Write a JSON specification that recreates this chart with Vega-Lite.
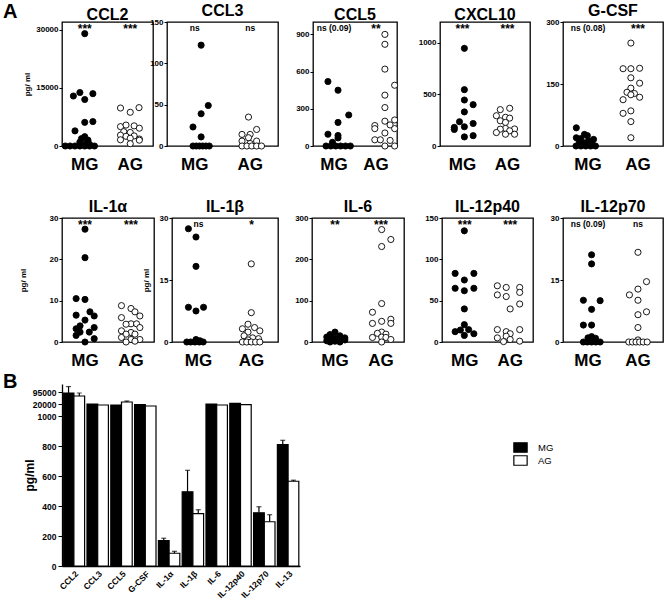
{
"$schema": "https://vega.github.io/schema/vega-lite/v6.json",
"padding": {"left": 3, "top": 2, "right": 0, "bottom": 0},
"resolve": {"scale": {"fill": "independent"}, "legend": {"fill": "independent"}},
"datasets": {
"pts": [
{"c":"CCL2","g":"MG","v":29000,"j":0},{"c":"CCL2","g":"MG","v":12900,"j":-3.5},{"c":"CCL2","g":"MG","v":13800,"j":-1.5},{"c":"CCL2","g":"MG","v":12000,"j":0},{"c":"CCL2","g":"MG","v":13500,"j":2.5},{"c":"CCL2","g":"MG","v":6100,"j":0},{"c":"CCL2","g":"MG","v":6300,"j":2.5},{"c":"CCL2","g":"MG","v":3900,"j":-3},{"c":"CCL2","g":"MG","v":2400,"j":0},{"c":"CCL2","g":"MG","v":1900,"j":-1},{"c":"CCL2","g":"MG","v":1500,"j":1},{"c":"CCL2","g":"MG","v":1000,"j":-1.5},{"c":"CCL2","g":"MG","v":700,"j":0.5},{"c":"CCL2","g":"MG","v":400,"j":1.5},{"c":"CCL2","g":"MG","v":0,"j":-6},{"c":"CCL2","g":"MG","v":0,"j":-4.5},{"c":"CCL2","g":"MG","v":0,"j":-3},{"c":"CCL2","g":"MG","v":0,"j":-1.5},{"c":"CCL2","g":"MG","v":0,"j":0},{"c":"CCL2","g":"MG","v":0,"j":1.5},{"c":"CCL2","g":"MG","v":0,"j":3},
{"c":"CCL2","g":"AG","v":9800,"j":-3},{"c":"CCL2","g":"AG","v":8700,"j":0},{"c":"CCL2","g":"AG","v":9900,"j":2.7},{"c":"CCL2","g":"AG","v":5000,"j":-3},{"c":"CCL2","g":"AG","v":5400,"j":-1.3},{"c":"CCL2","g":"AG","v":5200,"j":1.2},{"c":"CCL2","g":"AG","v":4600,"j":2.8},{"c":"CCL2","g":"AG","v":3700,"j":-2},{"c":"CCL2","g":"AG","v":3500,"j":0},{"c":"CCL2","g":"AG","v":2800,"j":-3},{"c":"CCL2","g":"AG","v":2500,"j":-1.3},{"c":"CCL2","g":"AG","v":2600,"j":1.2},{"c":"CCL2","g":"AG","v":2000,"j":0},{"c":"CCL2","g":"AG","v":1800,"j":2.8},{"c":"CCL2","g":"AG","v":1600,"j":-3},{"c":"CCL2","g":"AG","v":1500,"j":2.8},{"c":"CCL2","g":"AG","v":600,"j":0},
{"c":"CCL3","g":"MG","v":122,"j":3.5},{"c":"CCL3","g":"MG","v":49,"j":5.7},{"c":"CCL3","g":"MG","v":39,"j":3.5},{"c":"CCL3","g":"MG","v":23,"j":1},{"c":"CCL3","g":"MG","v":11,"j":3.5},{"c":"CCL3","g":"MG","v":0,"j":1},{"c":"CCL3","g":"MG","v":0,"j":2},{"c":"CCL3","g":"MG","v":0,"j":3},{"c":"CCL3","g":"MG","v":0,"j":4},{"c":"CCL3","g":"MG","v":0,"j":5},{"c":"CCL3","g":"MG","v":0,"j":6},
{"c":"CCL3","g":"AG","v":35,"j":1},{"c":"CCL3","g":"AG","v":20,"j":3.5},{"c":"CCL3","g":"AG","v":14,"j":-1},{"c":"CCL3","g":"AG","v":14,"j":1.5},{"c":"CCL3","g":"AG","v":10,"j":1},{"c":"CCL3","g":"AG","v":6,"j":-1},{"c":"CCL3","g":"AG","v":6,"j":3.5},{"c":"CCL3","g":"AG","v":3,"j":1.5},{"c":"CCL3","g":"AG","v":0,"j":-1},{"c":"CCL3","g":"AG","v":0,"j":0.5},{"c":"CCL3","g":"AG","v":0,"j":2},{"c":"CCL3","g":"AG","v":0,"j":3.5},{"c":"CCL3","g":"AG","v":0,"j":5},
{"c":"CCL5","g":"MG","v":520,"j":-2.4},{"c":"CCL5","g":"MG","v":450,"j":0.7},{"c":"CCL5","g":"MG","v":250,"j":4},{"c":"CCL5","g":"MG","v":190,"j":0.7},{"c":"CCL5","g":"MG","v":95,"j":-2.4},{"c":"CCL5","g":"MG","v":85,"j":0.7},{"c":"CCL5","g":"MG","v":65,"j":0.7},{"c":"CCL5","g":"MG","v":30,"j":-1},{"c":"CCL5","g":"MG","v":0,"j":-3},{"c":"CCL5","g":"MG","v":0,"j":-1.5},{"c":"CCL5","g":"MG","v":0,"j":0},{"c":"CCL5","g":"MG","v":0,"j":1.5},{"c":"CCL5","g":"MG","v":0,"j":3},{"c":"CCL5","g":"MG","v":0,"j":4.5},
{"c":"CCL5","g":"AG","v":900,"j":2.2},{"c":"CCL5","g":"AG","v":820,"j":2.2},{"c":"CCL5","g":"AG","v":620,"j":2.2},{"c":"CCL5","g":"AG","v":490,"j":5.2},{"c":"CCL5","g":"AG","v":410,"j":2.2},{"c":"CCL5","g":"AG","v":310,"j":2.2},{"c":"CCL5","g":"AG","v":200,"j":2.2},{"c":"CCL5","g":"AG","v":210,"j":5.2},{"c":"CCL5","g":"AG","v":170,"j":3.8},{"c":"CCL5","g":"AG","v":165,"j":-0.9},{"c":"CCL5","g":"AG","v":140,"j":-0.9},{"c":"CCL5","g":"AG","v":140,"j":5.2},{"c":"CCL5","g":"AG","v":105,"j":2.2},{"c":"CCL5","g":"AG","v":50,"j":-0.9},{"c":"CCL5","g":"AG","v":50,"j":0.8},{"c":"CCL5","g":"AG","v":45,"j":3.8},{"c":"CCL5","g":"AG","v":0,"j":2.2},{"c":"CCL5","g":"AG","v":0,"j":5.2},
{"c":"CXCL10","g":"MG","v":945,"j":0.5},{"c":"CXCL10","g":"MG","v":545,"j":0.5},{"c":"CXCL10","g":"MG","v":445,"j":0.5},{"c":"CXCL10","g":"MG","v":400,"j":3.2},{"c":"CXCL10","g":"MG","v":330,"j":0.5},{"c":"CXCL10","g":"MG","v":235,"j":-1},{"c":"CXCL10","g":"MG","v":218,"j":3.2},{"c":"CXCL10","g":"MG","v":186,"j":0.5},{"c":"CXCL10","g":"MG","v":180,"j":-2.6},{"c":"CXCL10","g":"MG","v":160,"j":-2.6},{"c":"CXCL10","g":"MG","v":100,"j":3.2},{"c":"CXCL10","g":"MG","v":88,"j":0.5},
{"c":"CXCL10","g":"AG","v":352,"j":-2.3},{"c":"CXCL10","g":"AG","v":365,"j":0.6},{"c":"CXCL10","g":"AG","v":293,"j":-3.5},{"c":"CXCL10","g":"AG","v":278,"j":-0.7},{"c":"CXCL10","g":"AG","v":270,"j":0.6},{"c":"CXCL10","g":"AG","v":244,"j":-2.3},{"c":"CXCL10","g":"AG","v":228,"j":-0.7},{"c":"CXCL10","g":"AG","v":170,"j":-0.7},{"c":"CXCL10","g":"AG","v":163,"j":-2.3},{"c":"CXCL10","g":"AG","v":165,"j":2.1},{"c":"CXCL10","g":"AG","v":147,"j":0.6},{"c":"CXCL10","g":"AG","v":130,"j":-3.5},{"c":"CXCL10","g":"AG","v":114,"j":-0.7},{"c":"CXCL10","g":"AG","v":114,"j":2.1},
{"c":"G-CSF","g":"MG","v":44,"j":-2.9},{"c":"G-CSF","g":"MG","v":28,"j":-0.4},{"c":"G-CSF","g":"MG","v":25,"j":0.5},{"c":"G-CSF","g":"MG","v":20,"j":-2.9},{"c":"G-CSF","g":"MG","v":18,"j":-1.5},{"c":"G-CSF","g":"MG","v":16,"j":2.4},{"c":"G-CSF","g":"MG","v":12,"j":1},{"c":"G-CSF","g":"MG","v":10,"j":-2},{"c":"G-CSF","g":"MG","v":8,"j":0},{"c":"G-CSF","g":"MG","v":5,"j":-1},{"c":"G-CSF","g":"MG","v":3,"j":2},{"c":"G-CSF","g":"MG","v":0,"j":-3},{"c":"G-CSF","g":"MG","v":0,"j":-1.5},{"c":"G-CSF","g":"MG","v":0,"j":0},{"c":"G-CSF","g":"MG","v":0,"j":1.5},{"c":"G-CSF","g":"MG","v":0,"j":3},
{"c":"G-CSF","g":"AG","v":249,"j":-1.5},{"c":"G-CSF","g":"AG","v":187,"j":-3.9},{"c":"G-CSF","g":"AG","v":187,"j":-1.5},{"c":"G-CSF","g":"AG","v":188,"j":1.2},{"c":"G-CSF","g":"AG","v":165,"j":-1.5},{"c":"G-CSF","g":"AG","v":152,"j":1.2},{"c":"G-CSF","g":"AG","v":140,"j":-1.5},{"c":"G-CSF","g":"AG","v":130,"j":-2.7},{"c":"G-CSF","g":"AG","v":127,"j":-0.4},{"c":"G-CSF","g":"AG","v":124,"j":-1.5},{"c":"G-CSF","g":"AG","v":118,"j":1.2},{"c":"G-CSF","g":"AG","v":112,"j":-3.9},{"c":"G-CSF","g":"AG","v":85,"j":-1.5},{"c":"G-CSF","g":"AG","v":79,"j":-3.9},{"c":"G-CSF","g":"AG","v":59,"j":-1.5},{"c":"G-CSF","g":"AG","v":20,"j":-1.5},
{"c":"IL-1α","g":"MG","v":27.3,"j":0},{"c":"IL-1α","g":"MG","v":20.4,"j":0},{"c":"IL-1α","g":"MG","v":10.5,"j":-2.7},{"c":"IL-1α","g":"MG","v":10.3,"j":0},{"c":"IL-1α","g":"MG","v":6.5,"j":-2.7},{"c":"IL-1α","g":"MG","v":7.3,"j":1.5},{"c":"IL-1α","g":"MG","v":6.3,"j":2.8},{"c":"IL-1α","g":"MG","v":5.3,"j":0},{"c":"IL-1α","g":"MG","v":3.9,"j":-1.5},{"c":"IL-1α","g":"MG","v":3.2,"j":-2.7},{"c":"IL-1α","g":"MG","v":3.5,"j":2.8},{"c":"IL-1α","g":"MG","v":2.4,"j":-1.5},{"c":"IL-1α","g":"MG","v":2.4,"j":1.3},{"c":"IL-1α","g":"MG","v":1.6,"j":-2.7},{"c":"IL-1α","g":"MG","v":0.8,"j":2.8},{"c":"IL-1α","g":"MG","v":0,"j":0},
{"c":"IL-1α","g":"AG","v":8.8,"j":-2.9},{"c":"IL-1α","g":"AG","v":8.1,"j":0},{"c":"IL-1α","g":"AG","v":5.9,"j":-2.9},{"c":"IL-1α","g":"AG","v":7.3,"j":1.2},{"c":"IL-1α","g":"AG","v":6.3,"j":2.7},{"c":"IL-1α","g":"AG","v":4.4,"j":0},{"c":"IL-1α","g":"AG","v":4.4,"j":1.7},{"c":"IL-1α","g":"AG","v":4.3,"j":-1.5},{"c":"IL-1α","g":"AG","v":2.7,"j":-2.9},{"c":"IL-1α","g":"AG","v":3.5,"j":2.7},{"c":"IL-1α","g":"AG","v":2.3,"j":0},{"c":"IL-1α","g":"AG","v":1.9,"j":-1.5},{"c":"IL-1α","g":"AG","v":1.9,"j":1.2},{"c":"IL-1α","g":"AG","v":1.1,"j":-2.9},{"c":"IL-1α","g":"AG","v":0.6,"j":2.7},{"c":"IL-1α","g":"AG","v":0.6,"j":0},{"c":"IL-1α","g":"AG","v":0.2,"j":1.2},{"c":"IL-1α","g":"AG","v":0,"j":-1.5},
{"c":"IL-1β","g":"MG","v":27.4,"j":-2},{"c":"IL-1β","g":"MG","v":25.4,"j":0.3},{"c":"IL-1β","g":"MG","v":18.3,"j":0.3},{"c":"IL-1β","g":"MG","v":8.4,"j":-2},{"c":"IL-1β","g":"MG","v":7.5,"j":0.3},{"c":"IL-1β","g":"MG","v":8.4,"j":2.6},{"c":"IL-1β","g":"MG","v":0.6,"j":0.3},{"c":"IL-1β","g":"MG","v":0.3,"j":1.5},{"c":"IL-1β","g":"MG","v":0,"j":-2.5},{"c":"IL-1β","g":"MG","v":0,"j":-1.3},{"c":"IL-1β","g":"MG","v":0,"j":0},{"c":"IL-1β","g":"MG","v":0,"j":1.3},{"c":"IL-1β","g":"MG","v":0,"j":2.5},
{"c":"IL-1β","g":"AG","v":18.9,"j":1},{"c":"IL-1β","g":"AG","v":7.1,"j":1},{"c":"IL-1β","g":"AG","v":4.3,"j":0},{"c":"IL-1β","g":"AG","v":3.2,"j":-1.7},{"c":"IL-1β","g":"AG","v":3.5,"j":2},{"c":"IL-1β","g":"AG","v":2.7,"j":3.6},{"c":"IL-1β","g":"AG","v":2.4,"j":0},{"c":"IL-1β","g":"AG","v":1.5,"j":-1.2},{"c":"IL-1β","g":"AG","v":1.0,"j":1.4},{"c":"IL-1β","g":"AG","v":0.8,"j":3.2},{"c":"IL-1β","g":"AG","v":0.5,"j":0},{"c":"IL-1β","g":"AG","v":0,"j":-1.7},{"c":"IL-1β","g":"AG","v":0,"j":-0.4},{"c":"IL-1β","g":"AG","v":0,"j":1},{"c":"IL-1β","g":"AG","v":0,"j":2.3},{"c":"IL-1β","g":"AG","v":0,"j":3.6},
{"c":"IL-6","g":"MG","v":24,"j":0},{"c":"IL-6","g":"MG","v":18,"j":-1.5},{"c":"IL-6","g":"MG","v":15,"j":1.5},{"c":"IL-6","g":"MG","v":15,"j":-1.5},{"c":"IL-6","g":"MG","v":12,"j":-2.5},{"c":"IL-6","g":"MG","v":10,"j":3},{"c":"IL-6","g":"MG","v":9,"j":0},{"c":"IL-6","g":"MG","v":8,"j":1.5},{"c":"IL-6","g":"MG","v":6,"j":-1.5},{"c":"IL-6","g":"MG","v":5,"j":3},{"c":"IL-6","g":"MG","v":3,"j":-2.5},{"c":"IL-6","g":"MG","v":2,"j":0},{"c":"IL-6","g":"MG","v":0,"j":1.5},{"c":"IL-6","g":"MG","v":0,"j":-1.5},
{"c":"IL-6","g":"AG","v":272,"j":0.2},{"c":"IL-6","g":"AG","v":248,"j":3},{"c":"IL-6","g":"AG","v":231,"j":0.2},{"c":"IL-6","g":"AG","v":93,"j":0.2},{"c":"IL-6","g":"AG","v":72,"j":-2.6},{"c":"IL-6","g":"AG","v":55,"j":3},{"c":"IL-6","g":"AG","v":50,"j":0.2},{"c":"IL-6","g":"AG","v":45,"j":-2.6},{"c":"IL-6","g":"AG","v":45,"j":3},{"c":"IL-6","g":"AG","v":24,"j":0.2},{"c":"IL-6","g":"AG","v":21,"j":-1.1},{"c":"IL-6","g":"AG","v":19,"j":1.5},{"c":"IL-6","g":"AG","v":12,"j":0.2},{"c":"IL-6","g":"AG","v":11,"j":-2.6},{"c":"IL-6","g":"AG","v":11,"j":1.5},{"c":"IL-6","g":"AG","v":6,"j":3},{"c":"IL-6","g":"AG","v":0,"j":0.2},
{"c":"IL-12p40","g":"MG","v":134.5,"j":-0.2},{"c":"IL-12p40","g":"MG","v":83,"j":-3},{"c":"IL-12p40","g":"MG","v":83,"j":2.7},{"c":"IL-12p40","g":"MG","v":75,"j":-0.2},{"c":"IL-12p40","g":"MG","v":65,"j":-3},{"c":"IL-12p40","g":"MG","v":62,"j":-0.2},{"c":"IL-12p40","g":"MG","v":65,"j":2.7},{"c":"IL-12p40","g":"MG","v":40,"j":-0.2},{"c":"IL-12p40","g":"MG","v":21,"j":-0.2},{"c":"IL-12p40","g":"MG","v":12.5,"j":-3},{"c":"IL-12p40","g":"MG","v":14.5,"j":-1.4},{"c":"IL-12p40","g":"MG","v":15,"j":1.1},{"c":"IL-12p40","g":"MG","v":10,"j":2.7},{"c":"IL-12p40","g":"MG","v":8,"j":-0.2},
{"c":"IL-12p40","g":"AG","v":68,"j":-4},{"c":"IL-12p40","g":"AG","v":66,"j":-1.3},{"c":"IL-12p40","g":"AG","v":66,"j":2.8},{"c":"IL-12p40","g":"AG","v":57,"j":-4},{"c":"IL-12p40","g":"AG","v":55,"j":-1.3},{"c":"IL-12p40","g":"AG","v":60,"j":2.8},{"c":"IL-12p40","g":"AG","v":46,"j":2.8},{"c":"IL-12p40","g":"AG","v":40,"j":-0.1},{"c":"IL-12p40","g":"AG","v":15,"j":-4},{"c":"IL-12p40","g":"AG","v":12.5,"j":-1.3},{"c":"IL-12p40","g":"AG","v":10,"j":-0.1},{"c":"IL-12p40","g":"AG","v":15,"j":2.8},{"c":"IL-12p40","g":"AG","v":5,"j":-4},{"c":"IL-12p40","g":"AG","v":7,"j":-1.3},{"c":"IL-12p40","g":"AG","v":3,"j":-0.1},{"c":"IL-12p40","g":"AG","v":1,"j":2.8},{"c":"IL-12p40","g":"AG","v":0.5,"j":-2.1},
{"c":"IL-12p70","g":"MG","v":21.1,"j":1.7},{"c":"IL-12p70","g":"MG","v":18.9,"j":1.7},{"c":"IL-12p70","g":"MG","v":10.1,"j":-0.8},{"c":"IL-12p70","g":"MG","v":10,"j":4.3},{"c":"IL-12p70","g":"MG","v":7.9,"j":1.7},{"c":"IL-12p70","g":"MG","v":4.1,"j":-0.8},{"c":"IL-12p70","g":"MG","v":4.1,"j":1.7},{"c":"IL-12p70","g":"MG","v":1.3,"j":1.7},{"c":"IL-12p70","g":"MG","v":1,"j":0.6},{"c":"IL-12p70","g":"MG","v":0.9,"j":2.9},{"c":"IL-12p70","g":"MG","v":0,"j":-0.8},{"c":"IL-12p70","g":"MG","v":0,"j":0.4},{"c":"IL-12p70","g":"MG","v":0,"j":1.7},{"c":"IL-12p70","g":"MG","v":0,"j":3},{"c":"IL-12p70","g":"MG","v":0,"j":4.3},
{"c":"IL-12p70","g":"AG","v":21.7,"j":0.6},{"c":"IL-12p70","g":"AG","v":12.8,"j":0.6},{"c":"IL-12p70","g":"AG","v":14.6,"j":3.2},{"c":"IL-12p70","g":"AG","v":11.4,"j":-2},{"c":"IL-12p70","g":"AG","v":10.1,"j":0.6},{"c":"IL-12p70","g":"AG","v":7.3,"j":3.2},{"c":"IL-12p70","g":"AG","v":6.6,"j":0.6},{"c":"IL-12p70","g":"AG","v":3.5,"j":0.6},{"c":"IL-12p70","g":"AG","v":0.5,"j":0.6},{"c":"IL-12p70","g":"AG","v":0,"j":-2.2},{"c":"IL-12p70","g":"AG","v":0,"j":-1.1},{"c":"IL-12p70","g":"AG","v":0,"j":0},{"c":"IL-12p70","g":"AG","v":0,"j":1.1},{"c":"IL-12p70","g":"AG","v":0,"j":2.2},{"c":"IL-12p70","g":"AG","v":0,"j":3.4}
],
"sig": [
{"c":"CCL2","g":"MG","s":"***"},{"c":"CCL2","g":"AG","s":"***"},
{"c":"CCL3","g":"MG","s":"ns"},{"c":"CCL3","g":"AG","s":"ns"},
{"c":"CCL5","g":"MG","s":"ns (0.09)"},{"c":"CCL5","g":"AG","s":"**"},
{"c":"CXCL10","g":"MG","s":"***"},{"c":"CXCL10","g":"AG","s":"***"},
{"c":"G-CSF","g":"MG","s":"ns (0.08)"},{"c":"G-CSF","g":"AG","s":"***"},
{"c":"IL-1α","g":"MG","s":"***"},{"c":"IL-1α","g":"AG","s":"***"},
{"c":"IL-1β","g":"MG","s":"ns"},{"c":"IL-1β","g":"AG","s":"*"},
{"c":"IL-6","g":"MG","s":"**"},{"c":"IL-6","g":"AG","s":"***"},
{"c":"IL-12p40","g":"MG","s":"***"},{"c":"IL-12p40","g":"AG","s":"***"},
{"c":"IL-12p70","g":"MG","s":"ns (0.09)"},{"c":"IL-12p70","g":"AG","s":"ns"}
],
"bars": [
{"cyto":"CCL2","grp":"MG","val":88750,"err":112000},{"cyto":"CCL2","grp":"AG","val":70000,"err":88750},
{"cyto":"CCL3","grp":"MG","val":20000,"err":null},{"cyto":"CCL3","grp":"AG","val":18400,"err":null},
{"cyto":"CCL5","grp":"MG","val":18400,"err":null},{"cyto":"CCL5","grp":"AG","val":32500,"err":38750},
{"cyto":"G-CSF","grp":"MG","val":19000,"err":null},{"cyto":"G-CSF","grp":"AG","val":16800,"err":null},
{"cyto":"IL-1α","grp":"MG","val":170,"err":185},{"cyto":"IL-1α","grp":"AG","val":85,"err":98},
{"cyto":"IL-1β","grp":"MG","val":495,"err":638},{"cyto":"IL-1β","grp":"AG","val":349,"err":375},
{"cyto":"IL-6","grp":"MG","val":20000,"err":null},{"cyto":"IL-6","grp":"AG","val":18400,"err":null},
{"cyto":"IL-12p40","grp":"MG","val":24400,"err":null},{"cyto":"IL-12p40","grp":"AG","val":19000,"err":null},
{"cyto":"IL-12p70","grp":"MG","val":355,"err":395},{"cyto":"IL-12p70","grp":"AG","val":295,"err":342},
{"cyto":"IL-13","grp":"MG","val":809,"err":838},{"cyto":"IL-13","grp":"AG","val":565,"err":572}
]
},
"spacing": 3,
"vconcat": [
{"spacing": 0, "bounds": "flush", "hconcat": [
 {"width": 59, "height": 173, "title": {"text": "A", "anchor": "start", "font": "Liberation Sans", "fontSize": 20, "offset": -0.4}, "data": {"values": []}, "mark": "point", "encoding": {}},
 {"width": 91, "height": 124, "view": {"stroke": "black", "strokeWidth": 1.3}, "title": "CCL2", "layer": [
  {"data": {"name": "pts"}, "transform": [{"filter": "datum.c === 'CCL2'"}], "mark": {"type": "point", "shape": "circle", "filled": true, "size": 38, "stroke": "black", "strokeWidth": 0.9, "opacity": 1},
   "encoding": {"x": {"field": "g", "type": "nominal", "scale": {"domain": ["MG","AG"], "paddingInner": 0, "paddingOuter": 0}},
    "xOffset": {"field": "j", "type": "quantitative", "scale": {"domain": [-7, 7]}},
    "y": {"field": "v", "type": "quantitative", "scale": {"domain": [0, 32000], "nice": false}, "axis": {"values": [0, 15000, 30000], "format": "d", "title": "pg/ ml"}},
    "fill": {"field": "g", "type": "nominal", "scale": {"domain": ["MG","AG"], "range": ["black","white"]}, "legend": null}}},
  {"data": {"name": "sig"}, "transform": [{"filter": "datum.c === 'CCL2'"}], "mark": {"type": "text", "baseline": "top", "dy": 2, "fontWeight": "bold"},
   "encoding": {"x": {"field": "g", "type": "nominal"}, "y": {"datum": 32000}, "text": {"field": "s"}, "size": {"condition": {"test": "indexof(datum.s, '*') >= 0", "value": 12}, "value": 8.5}}}
 ]},
 {"width": 14, "height": 124, "data": {"values": []}, "mark": "point", "encoding": {}},
 {"width": 111, "height": 124, "view": {"stroke": "black", "strokeWidth": 1.3}, "title": "CCL3", "layer": [
  {"data": {"name": "pts"}, "transform": [{"filter": "datum.c === 'CCL3'"}], "mark": {"type": "point", "shape": "circle", "filled": true, "size": 38, "stroke": "black", "strokeWidth": 0.9, "opacity": 1},
   "encoding": {"x": {"field": "g", "type": "nominal", "scale": {"domain": ["MG","AG"], "paddingInner": 0, "paddingOuter": 0}},
    "xOffset": {"field": "j", "type": "quantitative", "scale": {"domain": [-7, 7]}},
    "y": {"field": "v", "type": "quantitative", "scale": {"domain": [0, 150], "nice": false}, "axis": {"values": [0, 50, 100, 150], "title": null}},
    "fill": {"field": "g", "type": "nominal", "scale": {"domain": ["MG","AG"], "range": ["black","white"]}, "legend": null}}},
  {"data": {"name": "sig"}, "transform": [{"filter": "datum.c === 'CCL3'"}], "mark": {"type": "text", "baseline": "top", "dy": 2, "fontWeight": "bold"},
   "encoding": {"x": {"field": "g", "type": "nominal"}, "y": {"datum": 150}, "text": {"field": "s"}, "size": {"condition": {"test": "indexof(datum.s, '*') >= 0", "value": 12}, "value": 8.5}}}
 ]},
 {"width": 35, "height": 124, "data": {"values": []}, "mark": "point", "encoding": {}},
 {"width": 84, "height": 124, "view": {"stroke": "black", "strokeWidth": 1.3}, "title": "CCL5", "layer": [
  {"data": {"name": "pts"}, "transform": [{"filter": "datum.c === 'CCL5'"}], "mark": {"type": "point", "shape": "circle", "filled": true, "size": 38, "stroke": "black", "strokeWidth": 0.9, "opacity": 1},
   "encoding": {"x": {"field": "g", "type": "nominal", "scale": {"domain": ["MG","AG"], "paddingInner": 0, "paddingOuter": 0}},
    "xOffset": {"field": "j", "type": "quantitative", "scale": {"domain": [-7, 7]}},
    "y": {"field": "v", "type": "quantitative", "scale": {"domain": [0, 1000], "nice": false}, "axis": {"values": [0, 300, 600, 900], "title": null}},
    "fill": {"field": "g", "type": "nominal", "scale": {"domain": ["MG","AG"], "range": ["black","white"]}, "legend": null}}},
  {"data": {"name": "sig"}, "transform": [{"filter": "datum.c === 'CCL5'"}], "mark": {"type": "text", "baseline": "top", "dy": 2, "fontWeight": "bold"},
   "encoding": {"x": {"field": "g", "type": "nominal"}, "y": {"datum": 1000}, "text": {"field": "s"}, "size": {"condition": {"test": "indexof(datum.s, '*') >= 0", "value": 12}, "value": 8.5}}}
 ]},
 {"width": 43, "height": 124, "data": {"values": []}, "mark": "point", "encoding": {}},
 {"width": 90, "height": 124, "view": {"stroke": "black", "strokeWidth": 1.3}, "title": "CXCL10", "layer": [
  {"data": {"name": "pts"}, "transform": [{"filter": "datum.c === 'CXCL10'"}], "mark": {"type": "point", "shape": "circle", "filled": true, "size": 38, "stroke": "black", "strokeWidth": 0.9, "opacity": 1},
   "encoding": {"x": {"field": "g", "type": "nominal", "scale": {"domain": ["MG","AG"], "paddingInner": 0, "paddingOuter": 0}},
    "xOffset": {"field": "j", "type": "quantitative", "scale": {"domain": [-7, 7]}},
    "y": {"field": "v", "type": "quantitative", "scale": {"domain": [0, 1200], "nice": false}, "axis": {"values": [0, 500, 1000], "format": "d", "title": null}},
    "fill": {"field": "g", "type": "nominal", "scale": {"domain": ["MG","AG"], "range": ["black","white"]}, "legend": null}}},
  {"data": {"name": "sig"}, "transform": [{"filter": "datum.c === 'CXCL10'"}], "mark": {"type": "text", "baseline": "top", "dy": 2, "fontWeight": "bold"},
   "encoding": {"x": {"field": "g", "type": "nominal"}, "y": {"datum": 1200}, "text": {"field": "s"}, "size": {"condition": {"test": "indexof(datum.s, '*') >= 0", "value": 12}, "value": 8.5}}}
 ]},
 {"width": 33, "height": 124, "data": {"values": []}, "mark": "point", "encoding": {}},
 {"width": 100, "height": 124, "view": {"stroke": "black", "strokeWidth": 1.3}, "title": "G-CSF", "layer": [
  {"data": {"name": "pts"}, "transform": [{"filter": "datum.c === 'G-CSF'"}], "mark": {"type": "point", "shape": "circle", "filled": true, "size": 38, "stroke": "black", "strokeWidth": 0.9, "opacity": 1},
   "encoding": {"x": {"field": "g", "type": "nominal", "scale": {"domain": ["MG","AG"], "paddingInner": 0, "paddingOuter": 0}},
    "xOffset": {"field": "j", "type": "quantitative", "scale": {"domain": [-7, 7]}},
    "y": {"field": "v", "type": "quantitative", "scale": {"domain": [0, 300], "nice": false}, "axis": {"values": [0, 150, 300], "title": null}},
    "fill": {"field": "g", "type": "nominal", "scale": {"domain": ["MG","AG"], "range": ["black","white"]}, "legend": null}}},
  {"data": {"name": "sig"}, "transform": [{"filter": "datum.c === 'G-CSF'"}], "mark": {"type": "text", "baseline": "top", "dy": 2, "fontWeight": "bold"},
   "encoding": {"x": {"field": "g", "type": "nominal"}, "y": {"datum": 300}, "text": {"field": "s"}, "size": {"condition": {"test": "indexof(datum.s, '*') >= 0", "value": 12}, "value": 8.5}}}
 ]}
]},
{"spacing": 0, "bounds": "flush", "hconcat": [
 {"width": 59, "height": 124, "data": {"values": []}, "mark": "point", "encoding": {}},
 {"width": 92, "height": 124, "view": {"stroke": "black", "strokeWidth": 1.3}, "title": "IL-1α", "layer": [
  {"data": {"name": "pts"}, "transform": [{"filter": "datum.c === 'IL-1α'"}], "mark": {"type": "point", "shape": "circle", "filled": true, "size": 38, "stroke": "black", "strokeWidth": 0.9, "opacity": 1},
   "encoding": {"x": {"field": "g", "type": "nominal", "scale": {"domain": ["MG","AG"], "paddingInner": 0, "paddingOuter": 0}},
    "xOffset": {"field": "j", "type": "quantitative", "scale": {"domain": [-7, 7]}},
    "y": {"field": "v", "type": "quantitative", "scale": {"domain": [0, 30], "nice": false}, "axis": {"values": [0, 10, 20, 30], "title": "pg/ ml", "titlePadding": 22}},
    "fill": {"field": "g", "type": "nominal", "scale": {"domain": ["MG","AG"], "range": ["black","white"]}, "legend": null}}},
  {"data": {"name": "sig"}, "transform": [{"filter": "datum.c === 'IL-1α'"}], "mark": {"type": "text", "baseline": "top", "dy": 2, "fontWeight": "bold"},
   "encoding": {"x": {"field": "g", "type": "nominal"}, "y": {"datum": 30}, "text": {"field": "s"}, "size": {"condition": {"test": "indexof(datum.s, '*') >= 0", "value": 12}, "value": 8.5}}}
 ]},
 {"width": 18, "height": 124, "data": {"values": []}, "mark": "point", "encoding": {}},
 {"width": 106, "height": 124, "view": {"stroke": "black", "strokeWidth": 1.3}, "title": "IL-1β", "layer": [
  {"data": {"name": "pts"}, "transform": [{"filter": "datum.c === 'IL-1β'"}], "mark": {"type": "point", "shape": "circle", "filled": true, "size": 38, "stroke": "black", "strokeWidth": 0.9, "opacity": 1},
   "encoding": {"x": {"field": "g", "type": "nominal", "scale": {"domain": ["MG","AG"], "paddingInner": 0, "paddingOuter": 0}},
    "xOffset": {"field": "j", "type": "quantitative", "scale": {"domain": [-7, 7]}},
    "y": {"field": "v", "type": "quantitative", "scale": {"domain": [0, 30], "nice": false}, "axis": {"values": [0, 15, 30], "title": "pg/ ml", "titlePadding": 9}},
    "fill": {"field": "g", "type": "nominal", "scale": {"domain": ["MG","AG"], "range": ["black","white"]}, "legend": null}}},
  {"data": {"name": "sig"}, "transform": [{"filter": "datum.c === 'IL-1β'"}], "mark": {"type": "text", "baseline": "top", "dy": 2, "fontWeight": "bold"},
   "encoding": {"x": {"field": "g", "type": "nominal"}, "y": {"datum": 30}, "text": {"field": "s"}, "size": {"condition": {"test": "indexof(datum.s, '*') >= 0", "value": 12}, "value": 8.5}}}
 ]},
 {"width": 34, "height": 124, "data": {"values": []}, "mark": "point", "encoding": {}},
 {"width": 92, "height": 124, "view": {"stroke": "black", "strokeWidth": 1.3}, "title": "IL-6", "layer": [
  {"data": {"name": "pts"}, "transform": [{"filter": "datum.c === 'IL-6'"}], "mark": {"type": "point", "shape": "circle", "filled": true, "size": 38, "stroke": "black", "strokeWidth": 0.9, "opacity": 1},
   "encoding": {"x": {"field": "g", "type": "nominal", "scale": {"domain": ["MG","AG"], "paddingInner": 0, "paddingOuter": 0}},
    "xOffset": {"field": "j", "type": "quantitative", "scale": {"domain": [-7, 7]}},
    "y": {"field": "v", "type": "quantitative", "scale": {"domain": [0, 300], "nice": false}, "axis": {"values": [0, 100, 200, 300], "title": null}},
    "fill": {"field": "g", "type": "nominal", "scale": {"domain": ["MG","AG"], "range": ["black","white"]}, "legend": null}}},
  {"data": {"name": "sig"}, "transform": [{"filter": "datum.c === 'IL-6'"}], "mark": {"type": "text", "baseline": "top", "dy": 2, "fontWeight": "bold"},
   "encoding": {"x": {"field": "g", "type": "nominal"}, "y": {"datum": 300}, "text": {"field": "s"}, "size": {"condition": {"test": "indexof(datum.s, '*') >= 0", "value": 12}, "value": 8.5}}}
 ]},
 {"width": 38, "height": 124, "data": {"values": []}, "mark": "point", "encoding": {}},
 {"width": 91, "height": 124, "view": {"stroke": "black", "strokeWidth": 1.3}, "title": "IL-12p40", "layer": [
  {"data": {"name": "pts"}, "transform": [{"filter": "datum.c === 'IL-12p40'"}], "mark": {"type": "point", "shape": "circle", "filled": true, "size": 38, "stroke": "black", "strokeWidth": 0.9, "opacity": 1},
   "encoding": {"x": {"field": "g", "type": "nominal", "scale": {"domain": ["MG","AG"], "paddingInner": 0, "paddingOuter": 0}},
    "xOffset": {"field": "j", "type": "quantitative", "scale": {"domain": [-7, 7]}},
    "y": {"field": "v", "type": "quantitative", "scale": {"domain": [0, 150], "nice": false}, "axis": {"values": [0, 50, 100, 150], "title": null}},
    "fill": {"field": "g", "type": "nominal", "scale": {"domain": ["MG","AG"], "range": ["black","white"]}, "legend": null}}},
  {"data": {"name": "sig"}, "transform": [{"filter": "datum.c === 'IL-12p40'"}], "mark": {"type": "text", "baseline": "top", "dy": 2, "fontWeight": "bold"},
   "encoding": {"x": {"field": "g", "type": "nominal"}, "y": {"datum": 150}, "text": {"field": "s"}, "size": {"condition": {"test": "indexof(datum.s, '*') >= 0", "value": 12}, "value": 8.5}}}
 ]},
 {"width": 30, "height": 124, "data": {"values": []}, "mark": "point", "encoding": {}},
 {"width": 100, "height": 124, "view": {"stroke": "black", "strokeWidth": 1.3}, "title": "IL-12p70", "layer": [
  {"data": {"name": "pts"}, "transform": [{"filter": "datum.c === 'IL-12p70'"}], "mark": {"type": "point", "shape": "circle", "filled": true, "size": 38, "stroke": "black", "strokeWidth": 0.9, "opacity": 1},
   "encoding": {"x": {"field": "g", "type": "nominal", "scale": {"domain": ["MG","AG"], "paddingInner": 0, "paddingOuter": 0}},
    "xOffset": {"field": "j", "type": "quantitative", "scale": {"domain": [-7, 7]}},
    "y": {"field": "v", "type": "quantitative", "scale": {"domain": [0, 30], "nice": false}, "axis": {"values": [0, 15, 30], "title": null}},
    "fill": {"field": "g", "type": "nominal", "scale": {"domain": ["MG","AG"], "range": ["black","white"]}, "legend": null}}},
  {"data": {"name": "sig"}, "transform": [{"filter": "datum.c === 'IL-12p70'"}], "mark": {"type": "text", "baseline": "top", "dy": 2, "fontWeight": "bold"},
   "encoding": {"x": {"field": "g", "type": "nominal"}, "y": {"datum": 30}, "text": {"field": "s"}, "size": {"condition": {"test": "indexof(datum.s, '*') >= 0", "value": 12}, "value": 8.5}}}
 ]}
]},
{"spacing": 0, "bounds": "flush", "resolve": {"scale": {"fill": "independent"}, "legend": {"fill": "independent"}}, "hconcat": [
 {"width": 59, "height": 182, "title": {"text": "B", "anchor": "start", "font": "Liberation Sans", "fontSize": 20, "offset": -8}, "data": {"values": []}, "mark": "point", "encoding": {}},
 {"width": 238, "height": 182, "data": {"name": "bars"},
  "encoding": {
    "x": {"field": "cyto", "type": "nominal", "sort": null, "scale": {"paddingInner": 0.1, "paddingOuter": 0.05},
      "axis": {"title": null, "labelAngle": -45, "labelFont": "Liberation Sans", "labelFontSize": 8.5, "labelPadding": 3, "domain": true, "domainWidth": 1.3, "ticks": false}},
    "xOffset": {"field": "grp", "type": "nominal", "sort": ["MG","AG"]}
  },
  "layer": [
  {"mark": {"type": "bar", "stroke": "black", "strokeWidth": 1.2},
   "encoding": {
    "y": {"field": "val", "type": "quantitative", "scale": {"domain": [0, 1000, 20000, 95000, 120000], "range": [182, 32, 20, 8, 0], "nice": false, "zero": false},
      "axis": {"values": [0, 200, 400, 600, 800, 1000, 20000, 95000], "format": "d", "labelOverlap": false, "labelBound": false, "labelSeparation": 0, "title": "pg/ml", "titleFontSize": 12, "titlePadding": -4, "domain": true, "domainWidth": 1.3, "tickSize": 4, "labelFontSize": 8.5, "labelPadding": 2}},
    "fill": {"field": "grp", "type": "nominal", "scale": {"domain": ["MG","AG"], "range": ["black","white"]},
      "legend": {"title": null, "orient": "none", "legendX": 453, "legendY": 58, "symbolType": "M-1.4,-1H1.4V1H-1.4Z", "symbolSize": 90, "symbolStrokeColor": "black", "symbolStrokeWidth": 1.2, "labelFontSize": 9.5, "labelFont": "Liberation Sans", "labelColor": "black", "rowPadding": -4, "labelOffset": 12}}
   }},
  {"transform": [{"filter": "datum.err != null"}], "mark": {"type": "rule", "strokeWidth": 1.2, "color": "black"},
   "encoding": {"y": {"field": "val", "type": "quantitative", "axis": {"values": [0, 200, 400, 600, 800, 1000, 20000, 95000], "format": "d", "labelOverlap": false}}, "y2": {"field": "err"}}},
  {"transform": [{"filter": "datum.err != null"}], "mark": {"type": "tick", "thickness": 1.2, "size": 5, "color": "black"},
   "encoding": {"y": {"field": "err", "type": "quantitative", "axis": {"values": [0, 200, 400, 600, 800, 1000, 20000, 95000], "format": "d", "labelOverlap": false}}}}
 ]}
]}
],
"config": {
 "font": "Liberation Sans",
 "view": {"stroke": null},
 "title": {"font": "Liberation Sans", "fontSize": 16, "fontWeight": "bold", "color": "black", "offset": -1},
 "axis": {"labelFont": "Liberation Sans", "labelFontWeight": "bold", "labelColor": "black", "titleColor": "black", "tickColor": "black", "domainColor": "black", "grid": false, "titleFont": "Liberation Sans", "titleFontWeight": "bold", "labelOverlap": false},
 "axisQuantitative": {"labelOverlap": false},
 "axisLeft": {"labelOverlap": false},
 "axisX": {"labelAngle": 0, "labelFont": "Liberation Sans", "labelFontSize": 17, "ticks": false, "domain": false, "labelPadding": 10, "title": null},
 "axisY": {"domain": false, "tickSize": 3, "tickWidth": 1, "labelFontSize": 8, "labelPadding": 1, "titleFontSize": 8, "titlePadding": 4, "labelOverlap": false},
 "text": {"font": "Liberation Sans", "color": "black"}
}
}
